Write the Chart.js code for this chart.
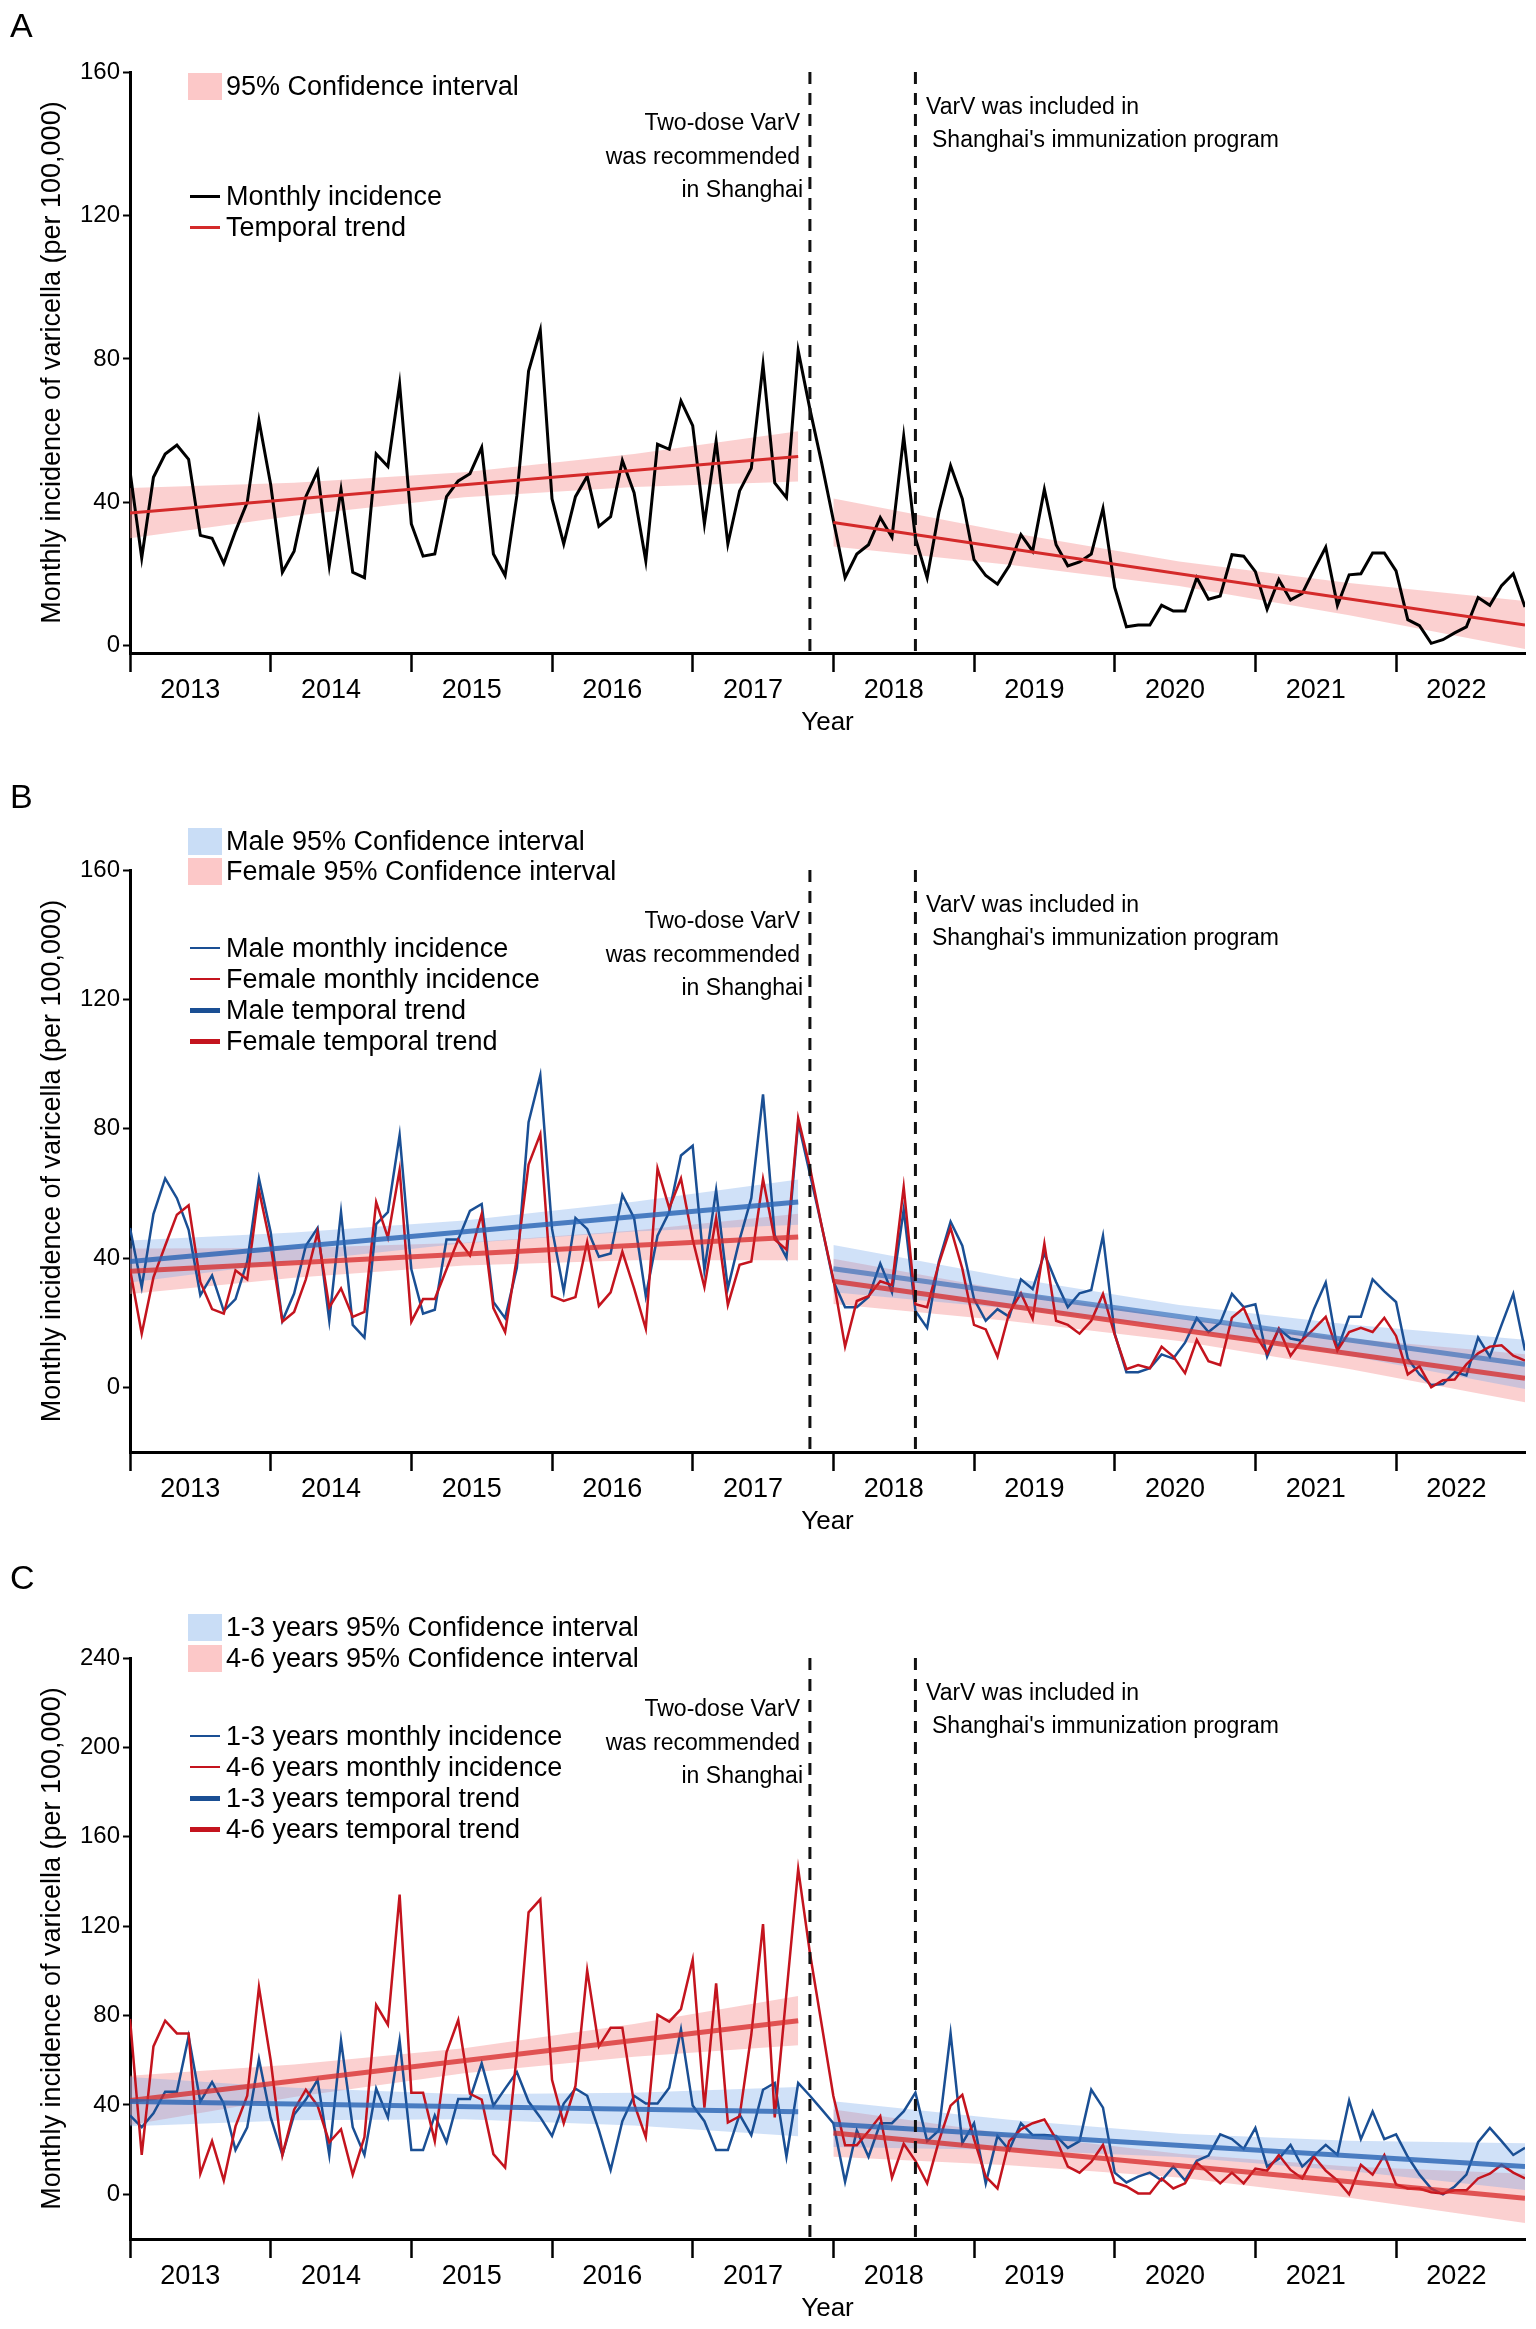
<!DOCTYPE html>
<html>
<head>
<meta charset="utf-8">
<script src="https://cdn.jsdelivr.net/npm/chart.js@4.4.1/dist/chart.umd.min.js"></script>
<style>
    body { margin: 0; background: #fff; width: 1536px; height: 2329px; position: relative; overflow: hidden;
           font-family: "Liberation Sans", Arial, sans-serif; color: #000; }
    canvas { position: absolute; left: 0; }
    .txt { position: absolute; white-space: nowrap; line-height: 1; transform: translateY(-50%); }
    .right { transform: translate(-100%, -50%); }
    .sw { position: absolute; }
</style>
</head>
<body>
<canvas id="chartA" width="1536" height="776" style="top:0px"></canvas>
<canvas id="chartB" width="1536" height="776" style="top:776px"></canvas>
<canvas id="chartC" width="1536" height="777" style="top:1552px"></canvas>
<script>
// Місяці 2013-01 ... 2022-12 (індекс 0..119)
const months = Array.from({ length: 120 }, (_, i) => i);
const years = ["2013", "2014", "2015", "2016", "2017", "2018", "2019", "2020", "2021", "2022"];
const eventMonths = [58, 67];

// Панель A: загальна захворюваність
const incidenceAll = [
    48.7, 24.5, 47, 53.5, 56, 52, 30.8, 30, 23, 32, 40, 62.8,
    45, 20.5, 26.4, 41.6, 48.7, 22.3, 43.6, 20.5, 19, 53.5, 50, 73,
    34, 25, 25.6, 41.6, 46, 48, 55.3, 25.6, 19.6, 41.8, 76.6, 88,
    41, 28.4, 41.6, 47.3, 33.3, 36, 51.7, 42.7, 23.7, 56.2, 54.8, 68.3,
    61.4, 34, 57, 28.4, 43.2, 49.5, 78.4, 45.4, 41.3, 82.3, 66, 51,
    35, 19, 25.6, 28.2, 35.8, 30.3, 58.4, 30, 19, 37.2, 50.2, 41,
    24, 19.6, 17.2, 22.3, 31, 26.4, 43.6, 28.2, 22.3, 23.4, 25.6, 38.3,
    16.3, 5.3, 5.8, 5.8, 11.3, 9.7, 9.7, 19, 13, 13.9, 25.4, 25,
    20.7, 10.2, 18.5, 12.8, 14.6, 21.2, 27.5, 11.3, 19.8, 20.1, 25.9, 25.9,
    20.9, 7.3, 5.6, 0.7, 1.7, 3.6, 5.3, 13.5, 11.3, 16.8, 20.1, 10.8,
];

// Панель B: чоловіки / жінки
const incidenceMale = [
    49.3, 31, 53.6, 64.6, 58.5, 48.7, 28.5, 34.6, 23.6, 27.3, 38.9, 64.6,
    48, 20.6, 29, 43.8, 49.3, 20.6, 54.2, 19.3, 15.4, 50.5, 54.2, 78,
    36.5, 22.8, 24, 45.7, 45.7, 54.6, 56.7, 26.4, 21.4, 37, 82, 96.5,
    49, 29.7, 52.4, 49, 40.4, 41.4, 59.5, 52.4, 28.2, 46.9, 54.2, 71.7,
    74.7, 36.2, 61, 30.6, 45.7, 58.5, 90.6, 46.9, 40.1, 82, 66, 50,
    32.8, 24.8, 24.8, 27.9, 38.3, 29.4, 55, 23.6, 18.4, 38.9, 51.2, 43.8,
    27.3, 20.6, 24.2, 21.8, 33.4, 30.4, 41.4, 32.6, 24.8, 29.1, 30.1, 46.9,
    16.6, 4.7, 4.7, 5.9, 10.2, 8.9, 13.8, 21.4, 17.1, 20, 28.9, 24.8,
    25.7, 9.5, 18.1, 15.1, 14.4, 24.2, 32.4, 11.8, 21.8, 21.8, 33.4, 29.7,
    26.4, 8.9, 4, 0.7, 1, 4.7, 3.7, 15.4, 9.5, 19.3, 28.9, 11.4,
];
const incidenceFemale = [
    36.5, 16.6, 34, 43.8, 53.4, 56.3, 32.6, 24.2, 22.8, 36.2, 33.4, 61,
    43.8, 20.3, 23.3, 33.4, 48, 24.8, 30.6, 21.8, 23.3, 57.3, 46.3, 67.3,
    20.3, 27.3, 27.3, 36.5, 45.7, 40.8, 53.6, 24.5, 17.1, 40.1, 68.9, 78.3,
    28.2, 26.7, 27.9, 45, 25.2, 29.4, 42, 30.6, 18.1, 67.7, 55.4, 64.6,
    45.7, 31, 52.4, 25.5, 37.9, 38.9, 64.4, 45.7, 42.6, 83.2, 68, 50,
    33.4, 12.6, 26.7, 28.2, 32.8, 31.6, 62, 25.7, 24.8, 38.3, 49.3, 36.7,
    19.3, 17.9, 9.5, 23, 29.1, 21.2, 44.4, 20.6, 19.3, 16.6, 20.6, 28.9,
    16.3, 5.6, 6.9, 5.9, 12.6, 9.5, 4.4, 14.7, 8.1, 6.9, 21.5, 24.5,
    16.3, 10.5, 18.1, 9.8, 14.7, 18.1, 21.8, 11.4, 17.1, 18.4, 17.1, 21.5,
    15.9, 4, 6.5, 0, 2.2, 2.4, 7.1, 10.5, 12.6, 13, 9.8, 8.3,
];

// Панель C: 1-3 роки / 4-6 років
const incidenceAge13 = [
    35.3, 30, 36.2, 45.9, 45.9, 70.6, 41.5, 50.3, 40.6, 19.8, 30, 60.5,
    34.4, 17.6, 35.7, 42.4, 51.2, 17.6, 68.8, 30, 17.6, 47.3, 34.4, 68.8,
    19.8, 19.8, 35.3, 23.3, 42.7, 42.7, 58.6, 39.7, 47.3, 54.7, 41.5, 34.4,
    26.1, 40.6, 47.3, 44.1, 28.6, 10.9, 32.7, 44.1, 40.6, 40.6, 47.7, 73.8,
    39.7, 32.7, 19.8, 19.8, 35.7, 26.5, 46.8, 49.8, 16.8, 49.8, 44.1, 38,
    31.8, 5.6, 28.6, 16.8, 31.8, 31.8, 37.1, 45.5, 23.8, 28.6, 72, 22.9,
    31.8, 4.9, 26.1, 19.8, 31.8, 26.5, 26.5, 26.1, 20.8, 23.8, 46.8, 38.8,
    9.7, 5.3, 7.9, 9.7, 6.2, 12.4, 6.2, 15, 17.3, 26.8, 24.7, 20.3,
    29.7, 12.4, 15.9, 22.1, 12.4, 17.3, 22.1, 17.6, 42, 24.7, 37.1, 24.7,
    26.8, 16.8, 8.8, 2.6, 0, 3.5, 8.8, 23.3, 29.7, 23.8, 17.6, 20.8,
];
const incidenceAge46 = [
    78.5, 17.6, 66.2, 77.7, 72, 72, 9.2, 23.8, 6.2, 30.4, 44.1, 92.7,
    60, 17.6, 37.9, 46.8, 39.7, 23.3, 29.1, 8.8, 25.6, 84.7, 75.9, 134.1,
    45.5, 45.5, 23.8, 63.5, 78, 45, 42.4, 18, 12, 62.7, 126.2, 132,
    51.2, 31.8, 48.5, 100.2, 66.2, 74.5, 74.5, 40.6, 25.6, 80.3, 77.3, 82.9,
    105, 38.8, 94.4, 32.1, 34.9, 71.5, 120.9, 34.4, 90, 145.6, 108, 76,
    44, 22, 22, 28.2, 35, 7.4, 22.6, 15, 4.9, 23.8, 39.7, 44.5,
    24.7, 7.9, 2.6, 23.8, 29.1, 31.8, 33.5, 24.7, 12.4, 9.7, 14.5, 22.1,
    5.3, 3.5, 0.4, 0.4, 7.1, 2.6, 4.9, 14.1, 9.7, 4.9, 9.7, 4.9,
    11.5, 10.6, 17.6, 10.9, 7.1, 16.8, 10.6, 6.2, 0, 13.2, 8.8, 17.6,
    4.4, 2.6, 2.6, 0.9, 0.4, 1.8, 1.8, 7.1, 9.2, 13.2, 9.7, 7.1,
];

// Тренди (початок і кінець сегмента) та 95% довірчі інтервали
const trendXPre = [0, 57];
const trendXPost = [60, 119];
const bandXPre = [0, 14, 28.5, 43, 57];
const bandXPost = [60, 75, 89.5, 104, 119];

const trendAllPre = [37, 52.8];
const trendAllPost = [34.4, 5.8];
const ciAllPreHi = [44, 45.5, 48.4, 53.5, 59.8];
const ciAllPreLo = [30, 36.3, 41.4, 44.3, 45.8];
const ciAllPostHi = [41.1, 31.6, 23.5, 17.5, 12.5];
const ciAllPostLo = [27.7, 22.6, 16.7, 8.5, -0.9];

const trendMalePre = [38.9, 57.3];
const trendMalePost = [36.7, 7.1];
const ciMalePreHi = [45.4, 47.9, 51.6, 57.4, 64.3];
const ciMalePreLo = [32.4, 38.9, 44.6, 48.2, 50.3];
const ciMalePostHi = [44, 34, 25.5, 19.4, 14.7];
const ciMalePostLo = [29.4, 24.4, 18.3, 9.8, -0.5];

const trendFemalePre = [35.9, 46.5];
const trendFemalePost = [32.8, 2.8];
const ciFemalePreHi = [42.9, 43.1, 44.7, 48.5, 53.7];
const ciFemalePreLo = [28.9, 33.9, 37.7, 39.3, 39.3];
const ciFemalePostHi = [39.8, 29.9, 21.3, 15.1, 10.2];
const ciFemalePostLo = [25.8, 20.5, 14.3, 5.7, -4.6];

const trendAge13Pre = [41.5, 37];
const trendAge13Post = [31.4, 12.4];
const ciAge13PreHi = [52.5, 47.7, 44.8, 45.4, 48];
const ciAge13PreLo = [30.5, 33.1, 33.6, 30.8, 26];
const ciAge13PostHi = [41.6, 33.4, 27.1, 24, 22.9];
const ciAge13PostLo = [21.2, 19.8, 16.7, 10.4, 1.9];

const trendAge46Pre = [42, 77.7];
const trendAge46Post = [27.4, -1.8];
const ciAge46PreHi = [53, 58.1, 65.4, 76.2, 88.7];
const ciAge46PreLo = [31, 43.5, 54.2, 61.6, 66.7];
const ciAge46PostHi = [38, 27, 18.1, 12.5, 9.2];
const ciAge46PostLo = [16.8, 13, 7.5, -1.5, -12.8];

const yTicksAB = [0, 40, 80, 120, 160];
const yTicksC = [0, 40, 80, 120, 160, 200, 240];

const FONT = "'Liberation Sans', Arial, sans-serif";
const PINK = "rgba(246, 150, 150, 0.45)";
const LIGHTBLUE = "rgba(120, 170, 235, 0.35)";
const BLUE = "#1a4f94";
const RED = "#c4141e";

Chart.defaults.font.family = FONT;
Chart.defaults.color = "#000";

function pts(xs, ys) {
    return xs.map((x, i) => ({ x: x, y: ys[i] }));
}

function band(xs, hi, lo, color) {
    return [
        { data: pts(xs, hi), borderWidth: 0, pointRadius: 0, fill: false, order: 3 },
        { data: pts(xs, lo), borderWidth: 0, pointRadius: 0, fill: "-1", backgroundColor: color, order: 3 },
    ];
}

function monthly(values, color, width) {
    return { data: values, borderColor: color, borderWidth: width, pointRadius: 0, fill: false, tension: 0, order: 2 };
}

function trend(xs, values, color, width) {
    return { data: pts(xs, values), borderColor: color, borderWidth: width, pointRadius: 0, fill: false, order: 1 };
}

const eventLines = {
    id: "eventLines",
    afterDatasetsDraw(chart) {
        const { ctx, chartArea, scales } = chart;
        ctx.save();
        ctx.strokeStyle = "#111";
        ctx.lineWidth = 3;
        ctx.setLineDash([12, 9]);
        eventMonths.forEach((m) => {
            const x = scales.x.getPixelForValue(m);
            ctx.beginPath();
            ctx.moveTo(x, chartArea.top);
            ctx.lineTo(x, chartArea.bottom);
            ctx.stroke();
        });
        ctx.restore();
    },
};

/**
 * Одна панель рисунка
 */
function renderPanel(canvasId, datasets, p) {
    const canvas = document.getElementById(canvasId);
    const H = canvas.height;
    return new Chart(canvas.getContext("2d"), {
        type: "line",
        data: { labels: months, datasets: datasets },
        plugins: [eventLines],
        options: {
            responsive: false,
            animation: false,
            devicePixelRatio: 1,
            layout: { padding: { top: p.areaTop, right: 11, left: 0, bottom: 0 } },
            plugins: { legend: { display: false }, tooltip: { enabled: false } },
            scales: {
                x: {
                    type: "linear",
                    min: 0,
                    max: 119,
                    afterBuildTicks: (s) => {
                        s.ticks = months.filter((m) => m % 6 === 0).map((m) => ({ value: m }));
                    },
                    afterFit: (s) => {
                        s.height = H - p.areaBottom;
                    },
                    border: { display: true, color: "#000", width: 3 },
                    grid: {
                        drawOnChartArea: false,
                        tickLength: 19,
                        tickWidth: 2.5,
                        tickColor: (c) => (c.tick && c.tick.value % 12 === 0 ? "#000" : "rgba(0,0,0,0)"),
                    },
                    ticks: {
                        autoSkip: false,
                        maxRotation: 0,
                        padding: 2,
                        labelOffset: -10,
                        font: { size: 27 },
                        color: "#000",
                        callback: (v) => (v % 12 === 6 ? years[(v - 6) / 12] : ""),
                    },
                    title: {
                        display: true,
                        text: "Year",
                        font: { size: 26 },
                        color: "#000",
                        padding: { top: 0, bottom: p.xTitlePad },
                    },
                },
                y: {
                    min: p.yMin,
                    max: p.yMax,
                    afterBuildTicks: (s) => {
                        s.ticks = p.yTicks.map((v) => ({ value: v }));
                    },
                    afterFit: (s) => {
                        s.width = 130;
                    },
                    border: { display: true, color: "#000", width: 3 },
                    grid: { drawOnChartArea: false, tickLength: 7, tickWidth: 2, tickColor: "#000" },
                    ticks: { padding: 3, font: { size: 24 }, color: "#000" },
                    title: {
                        display: true,
                        text: "Monthly incidence of varicella (per 100,000)",
                        font: { size: 27 },
                        color: "#000",
                        padding: { top: 36, bottom: 0 },
                    },
                },
            },
        },
    });
}

renderPanel(
    "chartA",
    [
        ...band(bandXPre, ciAllPreHi, ciAllPreLo, PINK),
        ...band(bandXPost, ciAllPostHi, ciAllPostLo, PINK),
        monthly(incidenceAll, "#000", 3),
        trend(trendXPre, trendAllPre, "#d42a2a", 3),
        trend(trendXPost, trendAllPost, "#d42a2a", 3),
    ],
    { areaTop: 72, areaBottom: 653, yMin: -2, yMax: 160, yTicks: yTicksAB, xTitlePad: 38 }
);

renderPanel(
    "chartB",
    [
        ...band(bandXPre, ciMalePreHi, ciMalePreLo, LIGHTBLUE),
        ...band(bandXPost, ciMalePostHi, ciMalePostLo, LIGHTBLUE),
        ...band(bandXPre, ciFemalePreHi, ciFemalePreLo, PINK),
        ...band(bandXPost, ciFemalePostHi, ciFemalePostLo, PINK),
        monthly(incidenceFemale, RED, 2.5),
        monthly(incidenceMale, BLUE, 2.5),
        trend(trendXPre, trendMalePre, "rgba(40, 100, 180, 0.8)", 5),
        trend(trendXPost, trendMalePost, "rgba(40, 100, 180, 0.6)", 5),
        trend(trendXPre, trendFemalePre, "rgba(215, 40, 40, 0.75)", 5),
        trend(trendXPost, trendFemalePost, "rgba(215, 40, 40, 0.75)", 5),
    ],
    { areaTop: 94, areaBottom: 676, yMin: -20, yMax: 160, yTicks: yTicksAB, xTitlePad: 15 }
);

renderPanel(
    "chartC",
    [
        ...band(bandXPre, ciAge13PreHi, ciAge13PreLo, LIGHTBLUE),
        ...band(bandXPost, ciAge13PostHi, ciAge13PostLo, LIGHTBLUE),
        ...band(bandXPre, ciAge46PreHi, ciAge46PreLo, PINK),
        ...band(bandXPost, ciAge46PostHi, ciAge46PostLo, PINK),
        monthly(incidenceAge46, RED, 2.5),
        monthly(incidenceAge13, BLUE, 2.5),
        trend(trendXPre, trendAge13Pre, "rgba(40, 100, 180, 0.8)", 5),
        trend(trendXPost, trendAge13Post, "rgba(40, 100, 180, 0.8)", 5),
        trend(trendXPre, trendAge46Pre, "rgba(215, 40, 40, 0.75)", 5),
        trend(trendXPost, trendAge46Post, "rgba(215, 40, 40, 0.75)", 5),
    ],
    { areaTop: 106, areaBottom: 687, yMin: -20, yMax: 240, yTicks: yTicksC, xTitlePad: 5 }
);

// Підписи, легенди та анотації (текст у HTML)
function addText(text, x, y, size, alignRight) {
    const d = document.createElement("div");
    d.className = alignRight ? "txt right" : "txt";
    d.textContent = text;
    d.style.left = x + "px";
    d.style.top = y + "px";
    d.style.fontSize = size + "px";
    document.body.appendChild(d);
}

function addSwatch(kind, color, y, thick) {
    const d = document.createElement("div");
    d.className = "sw";
    if (kind === "box") {
        d.style.left = "188px";
        d.style.width = "34px";
        d.style.top = y - 13 + "px";
        d.style.height = "27px";
    } else {
        d.style.left = "190px";
        d.style.width = "30px";
        d.style.top = y - thick / 2 + "px";
        d.style.height = thick + "px";
    }
    d.style.background = color;
    document.body.appendChild(d);
}

function addLegend(items) {
    items.forEach((it) => {
        addSwatch(it[0], it[1], it[3], it[4]);
        addText(it[2], 226, it[3], 27, false);
    });
}

function addAnnotations(top) {
    addText("Two-dose VarV", 800, top + 50, 23, true);
    addText("was recommended", 800, top + 84, 23, true);
    addText("in Shanghai", 803, top + 117, 23, true);
    addText("VarV was included in", 926, top + 33.5, 23, false);
    addText("Shanghai's immunization program", 932, top + 66.5, 23, false);
}

addText("A", 10, 25, 34, false);
addText("B", 10, 796, 34, false);
addText("C", 10, 1577, 34, false);

addLegend([
    ["box", "#fcc8c8", "95% Confidence interval", 86, 0],
    ["line", "#000", "Monthly incidence", 196, 3],
    ["line", "#d42a2a", "Temporal trend", 227, 3],
]);
addLegend([
    ["box", "#c9ddf6", "Male 95% Confidence interval", 841, 0],
    ["box", "#fcc8c8", "Female 95% Confidence interval", 871, 0],
    ["line", BLUE, "Male monthly incidence", 948, 2.5],
    ["line", RED, "Female monthly incidence", 979, 2.5],
    ["line", BLUE, "Male temporal trend", 1010, 5],
    ["line", RED, "Female temporal trend", 1041, 5],
]);
addLegend([
    ["box", "#c9ddf6", "1-3 years 95% Confidence interval", 1627, 0],
    ["box", "#fcc8c8", "4-6 years 95% Confidence interval", 1658, 0],
    ["line", BLUE, "1-3 years monthly incidence", 1736, 2.5],
    ["line", RED, "4-6 years monthly incidence", 1767, 2.5],
    ["line", BLUE, "1-3 years temporal trend", 1798, 5],
    ["line", RED, "4-6 years temporal trend", 1829, 5],
]);

addAnnotations(72);
addAnnotations(870);
addAnnotations(1658);
</script>
</body>
</html>
